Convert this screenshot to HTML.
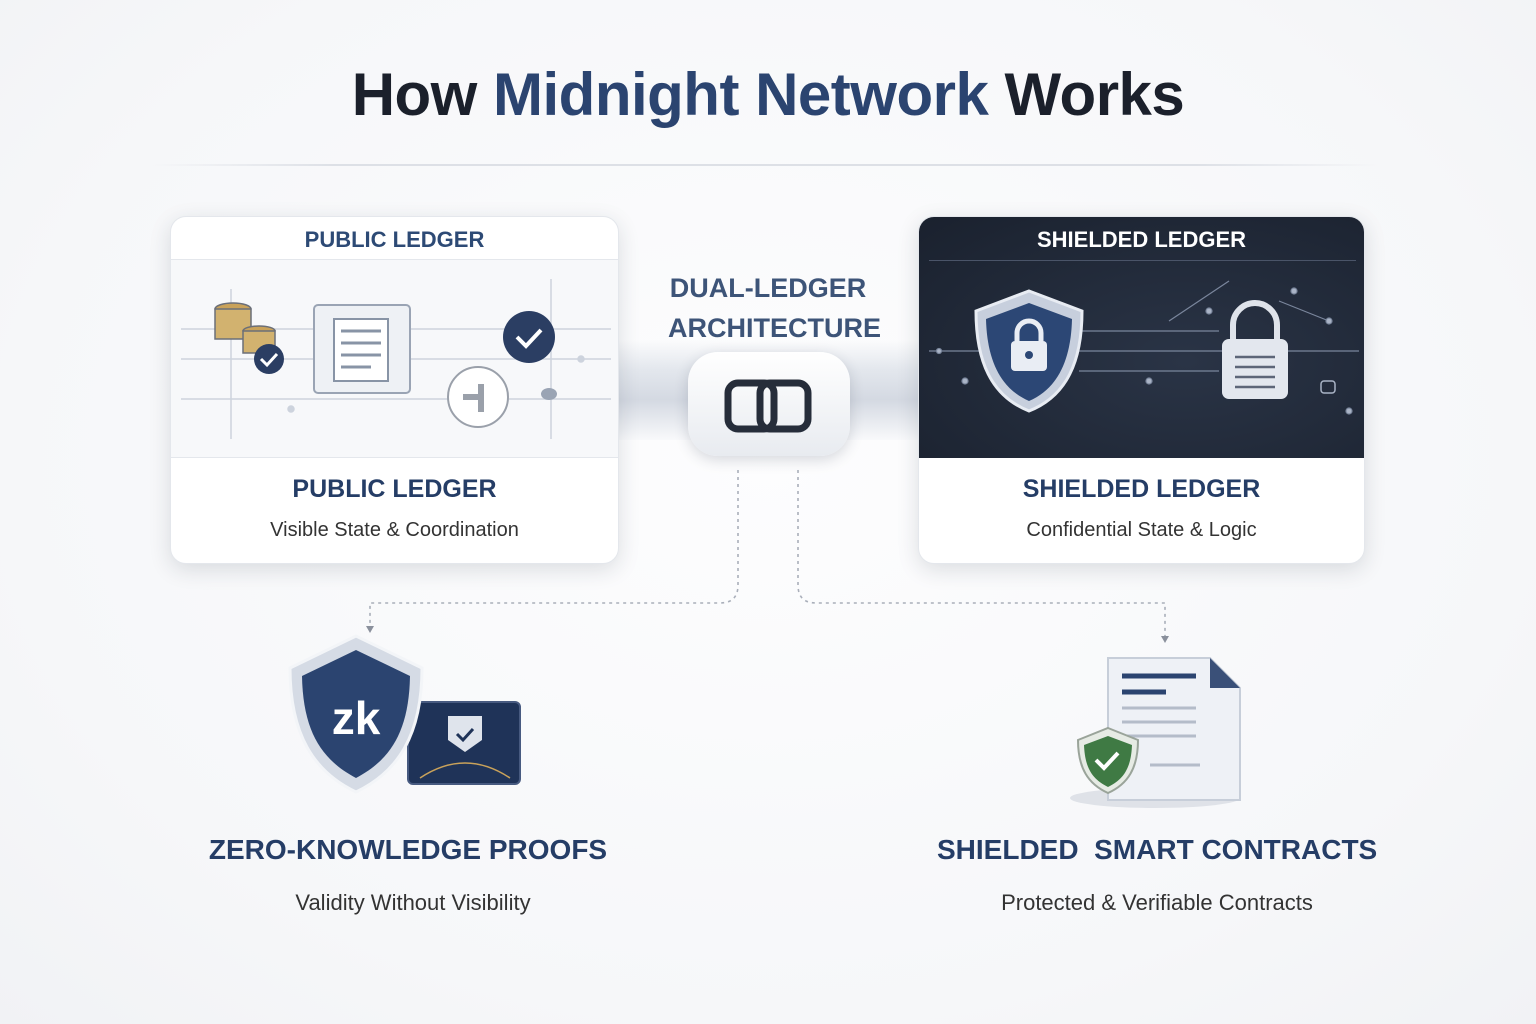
<!DOCTYPE html>
<html><head><meta charset="utf-8"><style>
*{margin:0;padding:0;box-sizing:border-box}
body{width:1536px;height:1024px;background:radial-gradient(ellipse at 50% 45%,#fdfdfe 0%,#f6f7f9 70%,#f1f2f5 100%);font-family:"Liberation Sans","DejaVu Sans",sans-serif;position:relative;overflow:hidden}
.a{position:absolute}
.t{position:absolute;left:0;width:100%;text-align:center;white-space:nowrap}
.card{position:absolute;background:#fff;border-radius:16px;box-shadow:0 6px 22px rgba(30,40,60,.14);overflow:hidden;border:1px solid #e4e7ec}
</style></head><body>
<div class="t" style="top:60px;font-size:60px;font-weight:bold;color:#1b202b;letter-spacing:-0.5px">How <span style="color:#2b4470">Midnight Network</span> Works</div>
<div class="a" style="left:150px;top:164px;width:1230px;height:2px;background:linear-gradient(90deg,transparent,#dde0e6 15%,#dde0e6 85%,transparent)"></div>

<div class="a" style="left:600px;top:340px;width:336px;height:100px;background:linear-gradient(180deg,rgba(240,242,246,0) 0%,#e3e7ed 30%,#d4d9e2 60%,rgba(235,238,243,0.2) 100%)"></div>
<div class="t" style="left:668px;width:200px;top:268px;font-size:27px;font-weight:bold;color:#3d5478;line-height:40px">DUAL-LEDGER<br>ARCHITECTURE</div>
<div class="a" style="left:688px;top:352px;width:162px;height:104px;border-radius:30px;background:linear-gradient(180deg,#fff,#e8ebf0);box-shadow:0 4px 14px rgba(40,50,70,.18)"></div>
<svg class="a" style="left:722px;top:375px" width="92" height="60"><rect x="6" y="8" width="46" height="46" rx="10" fill="none" stroke="#262d3a" stroke-width="7"/><rect x="38" y="8" width="48" height="46" rx="10" fill="none" stroke="#262d3a" stroke-width="7"/></svg>

<div class="card" style="left:170px;top:216px;width:449px;height:348px">
<div class="t" style="top:10px;font-size:22px;font-weight:bold;color:#2d4a75">PUBLIC LEDGER</div>
<div class="a" style="left:0;top:42px;width:100%;height:199px;background:#f7f8fa;border-top:1px solid #e4e7ec;border-bottom:1px solid #e4e7ec"></div>
<svg class="a" style="left:0;top:42px" width="449" height="199">
<g stroke="#cdd3dd" stroke-width="1.5" fill="#cdd3dd"><line x1="10" y1="70" x2="440" y2="70"/><line x1="10" y1="100" x2="440" y2="100"/><line x1="10" y1="140" x2="440" y2="140"/><line x1="60" y1="30" x2="60" y2="180"/><line x1="380" y1="20" x2="380" y2="180"/><circle cx="60" cy="70" r="3"/><circle cx="120" cy="150" r="3"/><circle cx="410" cy="100" r="3"/></g>
<g fill="#c9a25a" stroke="#6b6f78" stroke-width="1.5"><ellipse cx="62" cy="50" rx="18" ry="6"/><rect x="44" y="50" width="36" height="30" fill="#d2b26f"/><ellipse cx="88" cy="72" rx="16" ry="5"/><rect x="72" y="72" width="32" height="22" fill="#d2b26f"/></g>
<circle cx="98" cy="100" r="15" fill="#2b3e63"/><path d="M90 100l6 6 10-11" stroke="#fff" stroke-width="3" fill="none"/>
<rect x="143" y="46" width="96" height="88" rx="4" fill="#eef1f5" stroke="#9aa4b4" stroke-width="2"/><rect x="163" y="60" width="54" height="62" fill="#fff" stroke="#8894a6" stroke-width="2"/><g stroke="#8894a6" stroke-width="3"><line x1="170" y1="72" x2="210" y2="72"/><line x1="170" y1="84" x2="210" y2="84"/><line x1="170" y1="96" x2="210" y2="96"/><line x1="170" y1="108" x2="200" y2="108"/></g>
<circle cx="358" cy="78" r="26" fill="#2b3e63"/><path d="M346 78l9 9 15-16" stroke="#fff" stroke-width="4" fill="none"/>
<circle cx="307" cy="138" r="30" fill="#fff" stroke="#9aa0aa" stroke-width="2"/><path d="M292 138h18M310 125v28" stroke="#9aa0aa" stroke-width="6"/>
<ellipse cx="378" cy="135" rx="8" ry="6" fill="#9aa4b4"/>
</svg>
<div class="t" style="top:258px;font-size:25px;font-weight:bold;color:#253d66">PUBLIC LEDGER</div>
<div class="t" style="top:302px;font-size:20px;color:#333">Visible State &amp; Coordination</div>
</div>

<div class="card" style="left:918px;top:216px;width:447px;height:348px">
<div class="a" style="left:0;top:0;width:100%;height:241px;background:radial-gradient(ellipse at 60% 60%,#2a3446,#1a212e)"></div>
<div class="t" style="top:10px;font-size:22px;font-weight:bold;color:#fff">SHIELDED LEDGER</div>
<div class="a" style="left:10px;top:43px;width:427px;height:1px;background:#4a5468"></div>
<svg class="a" style="left:0;top:44px" width="447" height="197">
<g stroke="#7a869c" stroke-width="1.2" fill="#aab4c6"><line x1="10" y1="90" x2="440" y2="90"/><line x1="160" y1="70" x2="300" y2="70"/><line x1="160" y1="110" x2="300" y2="110"/><line x1="250" y1="60" x2="310" y2="20"/><line x1="360" y1="40" x2="410" y2="60"/><circle cx="20" cy="90" r="2.5"/><circle cx="290" cy="50" r="3"/><circle cx="375" cy="30" r="3"/><circle cx="410" cy="60" r="3"/><circle cx="46" cy="120" r="3"/><circle cx="430" cy="150" r="3"/><circle cx="230" cy="120" r="3"/></g>
<path d="M110 30 L163 50 C163 100 148 135 110 150 C72 135 57 100 57 50 Z" fill="#c7cfdd" stroke="#e8ecf3" stroke-width="3"/>
<path d="M110 42 L153 58 C152 100 138 128 110 140 C82 128 68 100 67 58 Z" fill="#2c4775"/>
<rect x="92" y="80" width="36" height="30" rx="4" fill="#e9edf4"/><path d="M98 80v-8a12 12 0 0 1 24 0v8" stroke="#e9edf4" stroke-width="5" fill="none"/><circle cx="110" cy="94" r="4" fill="#2c4775"/>
<path d="M314 80v-16a22 22 0 0 1 44 0v16" stroke="#dfe3ea" stroke-width="6" fill="none"/><rect x="303" y="78" width="66" height="60" rx="7" fill="#e3e7ee"/><g stroke="#5d6678" stroke-width="2.5"><line x1="316" y1="96" x2="356" y2="96"/><line x1="316" y1="106" x2="356" y2="106"/><line x1="316" y1="116" x2="356" y2="116"/><line x1="316" y1="126" x2="356" y2="126"/></g>
<rect x="402" y="120" width="14" height="12" rx="3" fill="none" stroke="#aab4c6" stroke-width="1.5"/>
</svg>
<div class="t" style="top:258px;font-size:25px;font-weight:bold;color:#253d66">SHIELDED LEDGER</div>
<div class="t" style="top:302px;font-size:20px;color:#333">Confidential State &amp; Logic</div>
</div>

<svg class="a" style="left:0;top:0" width="1536" height="1024">
<g fill="none" stroke="#a9afba" stroke-width="1.6" stroke-dasharray="3 4">
<path d="M738 470 V585 Q738 603 720 603 H370 V628"/>
<path d="M798 470 V585 Q798 603 816 603 H1165 V638"/>
</g>
<path d="M366 626l4 7 4-7z M1161 636l4 7 4-7z" fill="#8a909c"/>
<rect x="408" y="702" width="112" height="82" rx="5" fill="#1f3358" stroke="#475a80" stroke-width="2"/>
<path d="M448 716h34v24l-17 12-17-12z" fill="#dfe4ec"/><path d="M457 734l6 6 10-11" stroke="#1f3358" stroke-width="3" fill="none"/>
<path d="M420 778q45-30 90 0" stroke="#c9a25a" stroke-width="1.5" fill="none"/>
<path d="M356 636 L422 668 C422 735 398 772 356 792 C314 772 290 735 290 668 Z" fill="#d5dbe5" stroke="#f3f5f8" stroke-width="3"/>
<path d="M356 650 L410 676 C409 732 390 760 356 778 C322 760 303 732 302 676 Z" fill="#2b4470"/>
<text x="356" y="734" text-anchor="middle" font-family="Liberation Sans,sans-serif" font-size="46" font-weight="bold" fill="#fff">zk</text>
<ellipse cx="1155" cy="798" rx="85" ry="10" fill="#dfe2e8"/>
<path d="M1108 658 H1210 L1240 688 V800 H1108 Z" fill="#eef1f6" stroke="#c7ced9" stroke-width="2"/>
<path d="M1210 658 V688 H1240 Z" fill="#3a5078"/>
<g stroke="#2b4470" stroke-width="5"><line x1="1122" y1="676" x2="1196" y2="676"/><line x1="1122" y1="692" x2="1166" y2="692"/></g>
<g stroke="#b4bcc9" stroke-width="3"><line x1="1122" y1="708" x2="1196" y2="708"/><line x1="1122" y1="722" x2="1196" y2="722"/><line x1="1122" y1="736" x2="1196" y2="736"/><line x1="1150" y1="765" x2="1200" y2="765"/></g>
<path d="M1108 728 L1138 740 C1138 768 1128 784 1108 793 C1088 784 1078 768 1078 740 Z" fill="#e6ebe4" stroke="#9aa49a" stroke-width="2"/>
<path d="M1108 736 L1132 745 C1131 768 1124 779 1108 787 C1092 779 1085 768 1084 745 Z" fill="#3f7a44"/>
<path d="M1096 760l8 8 14-15" stroke="#fff" stroke-width="4" fill="none"/>
</svg>

<div class="t" style="left:208px;width:400px;top:834px;font-size:28px;font-weight:bold;color:#253d66">ZERO-KNOWLEDGE PROOFS</div>
<div class="t" style="left:208px;width:410px;top:890px;font-size:22px;color:#333">Validity Without Visibility</div>
<div class="t" style="left:937px;width:440px;top:834px;font-size:28px;font-weight:bold;color:#253d66;white-space:pre">SHIELDED  SMART CONTRACTS</div>
<div class="t" style="left:937px;width:440px;top:890px;font-size:22px;color:#333">Protected &amp; Verifiable Contracts</div>
</body></html>
